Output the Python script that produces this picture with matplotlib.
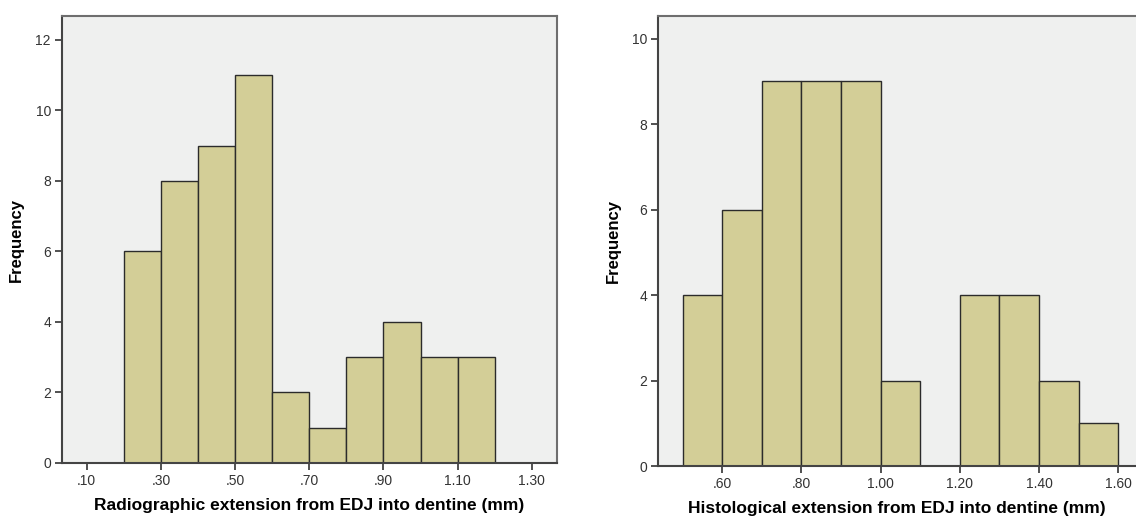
import numpy as np
import matplotlib
matplotlib.use("Agg")
import matplotlib.pyplot as plt

plt.rcParams['font.family'] = ['Liberation Sans', 'DejaVu Sans']

# radiographic extension histogram (bin edges in mm, counts)
radio_edges = [0.2, 0.3, 0.4, 0.5, 0.6, 0.7, 0.8, 0.9, 1.0, 1.1, 1.2]
radio_counts = [6, 8, 9, 11, 2, 1, 3, 4, 3, 3]
radio_ticks = [0.1, 0.3, 0.5, 0.7, 0.9, 1.1, 1.3]
radio_ticklabels = ['.10', '.30', '.50', '.70', '.90', '1.10', '1.30']

# histological extension histogram
histo_edges = [0.5, 0.6, 0.7, 0.8, 0.9, 1.0, 1.1, 1.2, 1.3, 1.4, 1.5, 1.6]
histo_counts = [4, 6, 9, 9, 9, 2, 0, 4, 4, 2, 1]
histo_ticks = [0.6, 0.8, 1.0, 1.2, 1.4, 1.6]
histo_ticklabels = ['.60', '.80', '1.00', '1.20', '1.40', '1.60']

face = '#eff0ef'
barcol = '#d3ce97'
edgecol = '#2b2b2b'
spinecol = '#6e6e6e'

fig = plt.figure(figsize=(11.36, 5.16), dpi=100)
ax1 = fig.add_axes([62/1136, 1-463/516, 495/1136, 447/516])
ax2 = fig.add_axes([658/1136, 1-466/516, 478/1136, 450/516])


def draw(ax, edges, counts, ticks, ticklabels, xlim, ylim, yticks, xlabel):
    ax.set_facecolor(face)
    left = np.array(edges[:-1])
    width = np.diff(edges)
    ax.bar(left, counts, width=width, align='edge', color=barcol,
           edgecolor=edgecol, linewidth=1.0, zorder=2)
    ax.set_xlim(*xlim)
    ax.set_ylim(*ylim)
    ax.set_xticks(ticks)
    ax.set_xticklabels(ticklabels)
    ax.set_yticks(yticks)
    ax.tick_params(direction='out', length=5, width=1.2, color='#333333',
                   labelsize=10, labelcolor='#333333', pad=3)
    for s in ax.spines.values():
        s.set_color(spinecol)
        s.set_linewidth(1.5)
    ax.spines['left'].set_color('#444444')
    ax.spines['bottom'].set_color('#444444')
    ax.set_xlabel(xlabel, fontsize=12.5, fontweight='bold', labelpad=7)
    ax.set_ylabel('Frequency', fontsize=12, fontweight='bold', labelpad=8)


draw(ax1, radio_edges, radio_counts, radio_ticks, radio_ticklabels,
     (0.0334, 1.368), (0, 12.68), [0, 2, 4, 6, 8, 10, 12],
     'Radiographic extension from EDJ into dentine (mm)')
draw(ax2, histo_edges, histo_counts, histo_ticks, histo_ticklabels,
     (0.438, 1.645), (0, 10.53), [0, 2, 4, 6, 8, 10],
     'Histological extension from EDJ into dentine (mm)')
ax2.spines['right'].set_visible(False)

fig.savefig('out.png', dpi=100, facecolor='white')
